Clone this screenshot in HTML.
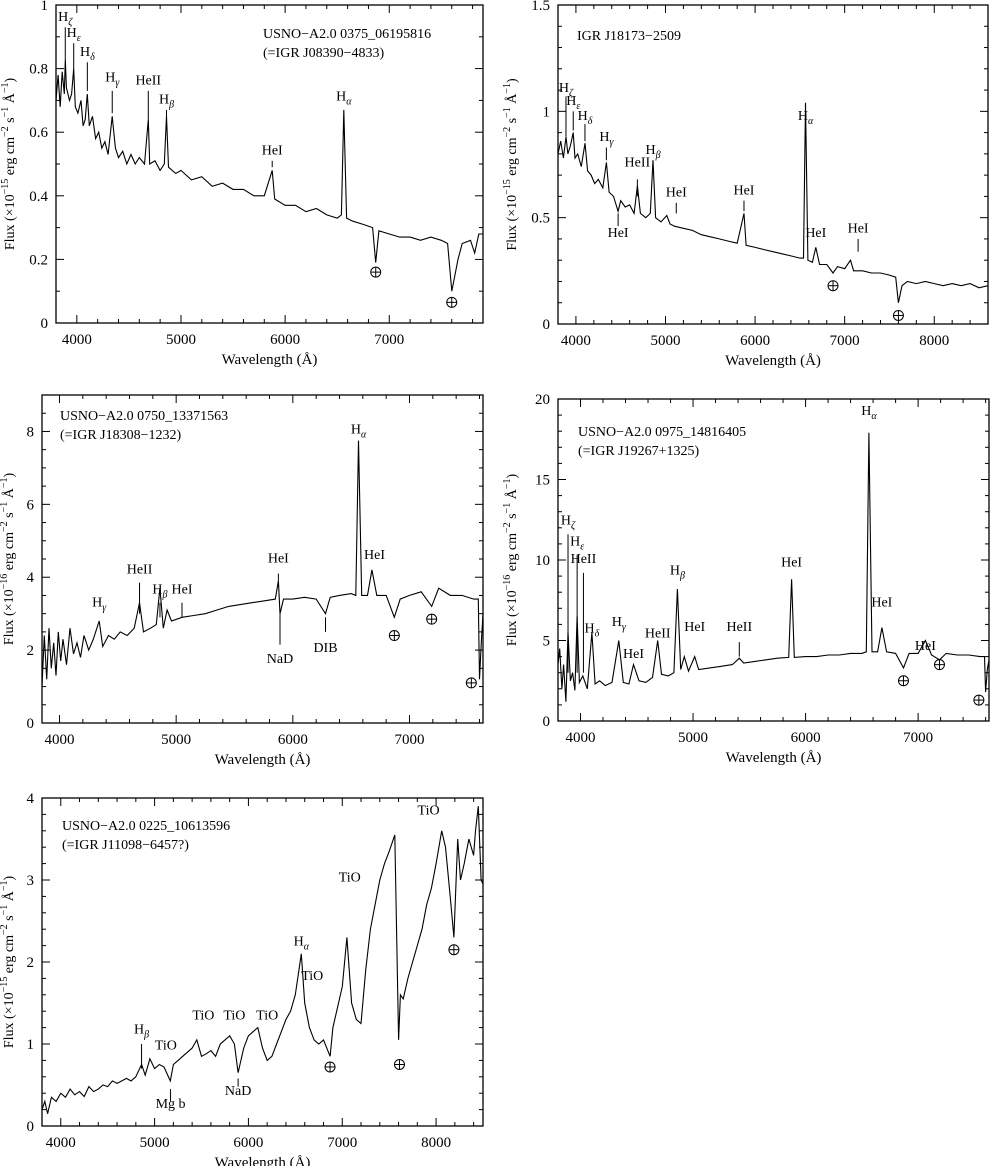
<!DOCTYPE html>
<html><head><meta charset="utf-8">
<style>
html,body{margin:0;padding:0;background:#fff;}
svg{display:block;font-family:"Liberation Serif",serif;}
</style></head>
<body>
<svg id="fig" width="991" height="1166" viewBox="0 0 991 1166"></svg>
<script>
// ---------- Panel 1 data ----------
const p1Wave = [3800,3820,3840,3860,3880,3889,3900,3930,3950,3970,3985,4010,4040,4060,4080,4101,4120,4150,4180,4210,4240,4270,4300,4340,4370,4400,4440,4480,4520,4560,4600,4650,4686,4700,4750,4800,4840,4861,4880,4950,5000,5100,5200,5300,5400,5500,5600,5700,5800,5876,5900,6000,6100,6200,6300,6400,6500,6540,6563,6590,6650,6750,6840,6870,6900,7000,7100,7200,7300,7400,7500,7560,7600,7630,7660,7700,7780,7820,7860,7900];
const p1Flux = [0.70,0.78,0.68,0.79,0.72,0.83,0.74,0.70,0.72,0.80,0.68,0.66,0.70,0.62,0.64,0.72,0.62,0.65,0.58,0.60,0.55,0.57,0.53,0.65,0.55,0.52,0.54,0.50,0.53,0.50,0.52,0.50,0.64,0.50,0.51,0.48,0.50,0.65,0.49,0.47,0.48,0.45,0.46,0.43,0.44,0.42,0.42,0.40,0.40,0.48,0.39,0.37,0.37,0.35,0.36,0.34,0.33,0.34,0.67,0.33,0.32,0.31,0.30,0.19,0.29,0.28,0.27,0.27,0.26,0.27,0.26,0.25,0.10,0.15,0.20,0.25,0.26,0.22,0.28,0.28];
const p1Labels = ["Hζ","Hε","Hδ","Hγ","HeII","Hβ","HeI","Hα"];
const p1LabelWave = [3889,3970,4101,4340,4686,4861,5876,6563];
const p1LabelY = [0.95,0.90,0.84,0.76,0.75,0.69,0.53,0.70];
const p1LineTop = [0.93,0.88,0.82,0.73,0.73,0.67,0.51,0];
const p1LineBot = [0.83,0.80,0.73,0.66,0.64,0.62,0.49,0];
const p1Earth = [[6870,0.16],[7600,0.065]];

// ---------- Panel 2 data ----------
const p2Wave = [3800,3830,3860,3889,3910,3940,3970,3990,4020,4060,4101,4130,4170,4210,4250,4300,4340,4370,4420,4471,4500,4550,4600,4650,4686,4720,4780,4830,4861,4890,4950,5015,5050,5100,5200,5300,5400,5500,5600,5700,5800,5876,5900,6000,6100,6200,6300,6400,6500,6540,6563,6590,6640,6678,6720,6800,6870,6920,7000,7065,7100,7200,7300,7400,7500,7570,7600,7640,7700,7800,7900,8000,8100,8200,8300,8400,8500,8600];
const p2Flux = [0.80,0.86,0.78,0.88,0.80,0.84,0.90,0.78,0.80,0.74,0.85,0.72,0.70,0.66,0.68,0.64,0.76,0.62,0.60,0.53,0.58,0.55,0.56,0.52,0.65,0.52,0.50,0.52,0.77,0.50,0.48,0.51,0.47,0.46,0.45,0.44,0.42,0.41,0.40,0.39,0.38,0.52,0.37,0.36,0.35,0.34,0.33,0.32,0.31,0.31,1.04,0.30,0.29,0.36,0.28,0.28,0.24,0.27,0.26,0.30,0.25,0.25,0.24,0.24,0.23,0.22,0.10,0.18,0.20,0.19,0.20,0.19,0.18,0.19,0.18,0.19,0.17,0.18];
const p2Labels = ["Hζ","Hε","Hδ","Hγ","HeI","HeII","Hβ","HeI","HeI","Hα","HeI","HeI"];
const p2LabelWave = [3889,3970,4101,4340,4471,4686,4861,5120,5876,6563,6678,7150];
const p2LabelY = [1.09,1.03,0.96,0.86,0.41,0.74,0.80,0.60,0.61,0.96,0.41,0.43];
const p2LineTop = [1.07,1.00,0.94,0.83,0.52,0.68,0.0,0.57,0.58,0,0,0.40];
const p2LineBot = [0.88,0.91,0.86,0.77,0.46,0.60,0.0,0.52,0.53,0,0,0.34];
const p2Earth = [[6870,0.18],[7600,0.04]];

// ---------- Panel 3 data ----------
const p3Wave = [3850,3870,3890,3910,3930,3950,3970,3990,4010,4030,4060,4090,4120,4150,4180,4210,4250,4290,4340,4370,4420,4470,4520,4580,4640,4686,4720,4780,4830,4861,4890,4922,4960,5050,5150,5250,5350,5450,5550,5650,5750,5850,5876,5890,5920,6000,6100,6200,6280,6320,6400,6500,6540,6563,6590,6640,6678,6720,6800,6870,6920,7000,7100,7190,7250,7350,7450,7550,7590,7600,7615,7630];
const p3Flux = [1.0,2.4,1.2,2.6,1.5,2.2,1.3,2.5,1.7,2.3,1.6,2.6,1.9,2.2,1.8,2.4,2.0,2.3,2.8,2.1,2.4,2.3,2.5,2.4,2.6,3.3,2.5,2.6,2.7,3.7,2.6,3.1,2.8,2.9,2.95,3.0,3.1,3.2,3.25,3.3,3.35,3.4,3.9,3.0,3.4,3.4,3.45,3.4,3.0,3.45,3.5,3.55,3.5,7.75,3.5,3.5,4.2,3.5,3.5,2.9,3.4,3.5,3.6,3.2,3.7,3.5,3.5,3.4,3.4,1.2,2.2,3.0];
const p3Labels = ["Hγ","HeII","Hβ","HeI","HeI","NaD","DIB","Hα","HeI"];
const p3LabelWave = [4340,4686,4861,5050,5876,5890,6280,6563,6700];
const p3LabelY = [3.2,4.1,3.55,3.55,4.4,1.65,1.95,7.95,4.5];
const p3LineTop = [0,3.85,3.3,3.3,4.1,3.0,2.9,0,0];
const p3LineBot = [0,3.0,2.9,2.9,3.9,2.15,2.5,0,0];
const p3Earth = [[6870,2.4],[7190,2.85],[7530,1.1]];

// ---------- Panel 4 data ----------
const p4Wave = [3800,3815,3835,3850,3870,3889,3910,3930,3950,3970,3990,4020,4060,4101,4130,4170,4220,4280,4340,4380,4430,4471,4520,4580,4640,4686,4720,4780,4830,4861,4890,4922,4960,5015,5050,5150,5250,5350,5411,5450,5550,5650,5750,5850,5876,5900,6000,6100,6200,6300,6400,6500,6540,6563,6590,6640,6678,6720,6800,6870,6920,7000,7065,7120,7190,7250,7350,7450,7550,7590,7600,7615,7630];
const p4Flux = [3.5,4.5,2.0,3.5,1.2,5.5,2.5,3.0,1.9,6.5,2.4,2.8,2.0,5.5,2.3,2.5,2.2,2.4,5.0,2.4,2.3,3.5,2.5,2.4,2.7,5.0,2.9,2.8,3.0,8.2,3.2,4.0,3.1,4.0,3.2,3.3,3.4,3.5,3.9,3.6,3.7,3.8,3.9,3.95,8.8,3.95,4.0,4.0,4.1,4.1,4.2,4.2,4.3,17.9,4.3,4.3,5.8,4.3,4.2,3.3,4.2,4.2,5.0,4.1,3.8,4.2,4.1,4.1,4.0,4.0,1.8,3.2,3.8];
const p4Labels = ["Hζ","Hε","HeII","Hδ","Hγ","HeI","HeII","Hβ","HeI","HeII","HeI","Hα","HeI","HeI"];
const p4LabelWave = [3889,3970,4026,4101,4340,4471,4686,4861,5015,5411,5876,6563,6678,7065];
const p4LabelY = [12.2,10.9,9.8,5.5,5.9,3.9,5.2,9.1,5.6,5.6,9.6,19,7.1,4.4];
const p4LineTop = [11.6,10.3,9.2,0,0,0,0,0,0,4.9,0,0,0,0];
const p4LineBot = [3.0,3.0,3.0,0,0,0,0,0,0,4.0,0,0,0,0];
const p4Earth = [[6870,2.5],[7190,3.5],[7540,1.3]];

// ---------- Panel 5 data ----------
const p5Wave = [3800,3830,3860,3900,3950,4000,4050,4100,4150,4200,4250,4300,4350,4400,4450,4500,4550,4600,4650,4700,4750,4800,4861,4900,4950,5000,5050,5100,5167,5200,5250,5300,5350,5400,5450,5500,5550,5600,5650,5700,5750,5800,5850,5890,5950,6000,6050,6100,6150,6200,6250,6300,6350,6400,6450,6500,6563,6600,6650,6700,6750,6800,6870,6900,6950,7000,7050,7100,7150,7200,7250,7300,7350,7400,7450,7500,7560,7600,7620,7650,7700,7750,7800,7850,7900,7950,8000,8060,8100,8150,8190,8230,8260,8300,8350,8400,8420,8450,8480,8500];
const p5Flux = [0.2,0.3,0.15,0.35,0.3,0.4,0.35,0.45,0.38,0.42,0.36,0.48,0.42,0.45,0.5,0.48,0.55,0.52,0.55,0.58,0.55,0.6,0.75,0.62,0.82,0.7,0.75,0.72,0.55,0.75,0.8,0.85,0.9,0.95,1.05,0.85,0.88,0.92,0.85,1.0,1.05,1.1,1.0,0.65,0.95,1.1,1.15,1.2,0.95,0.8,0.85,1.0,1.15,1.3,1.4,1.6,2.1,1.5,1.2,1.05,1.0,1.05,0.85,1.2,1.45,1.7,2.3,1.5,1.3,1.25,1.9,2.4,2.7,3.0,3.2,3.35,3.55,1.05,1.6,1.55,1.8,2.0,2.2,2.4,2.7,2.9,3.2,3.6,3.4,2.8,2.3,3.5,3.0,3.2,3.5,3.3,3.6,3.9,3.0,2.95];
const p5Labels = ["Hβ","TiO","Mg b","TiO","TiO","NaD","TiO","Hα","TiO","TiO","TiO"];
const p5LabelWave = [4861,5120,5170,5520,5850,5890,6200,6563,6680,7080,7920];
const p5LabelY = [1.13,0.93,0.22,1.3,1.3,0.38,1.3,2.2,1.78,2.98,3.8];
const p5LineTop = [1.0,0,0.45,0,0,0.58,0,0,0,0,0];
const p5LineBot = [0.7,0,0.3,0,0,0.48,0,0,0,0,0];
const p5Earth = [[6870,0.72],[7610,0.75],[8190,2.15]];

const NS = "http://www.w3.org/2000/svg";
const svg = document.getElementById("fig");
function mk(tag, attrs, parent){
  const e = document.createElementNS(NS, tag);
  for (const k in attrs) e.setAttribute(k, attrs[k]);
  (parent||svg).appendChild(e);
  return e;
}

function drawPanel(cfg){
  const g = mk("g", {});
  
  
  const {L,R,T,B,x0,x1,y0,y1} = cfg;
  const sx = w => L + (w - x0) / (x1 - x0) * (R - L);
  const sy = v => B - (v - y0) / (y1 - y0) * (B - T);
  const fr = mk("rect", {x:L, y:T, width:R-L, height:B-T, fill:"none", stroke:"#000", "stroke-width":1.3}, g);
  
  
  for (let w = Math.ceil(x0/200)*200; w <= x1; w += 200){
    const major = w % 1000 === 0, len = major ? 8 : 4, x = sx(w);
    mk("line",{x1:x,y1:B,x2:x,y2:B-len,stroke:"#000","stroke-width":1},g);
    mk("line",{x1:x,y1:T,x2:x,y2:T+len,stroke:"#000","stroke-width":1},g);
    if (major){
      const t = mk("text",{x:x,y:B+21,"text-anchor":"middle","font-size":15},g);
      t.textContent = w;
      
      
    }
  }
  const nMin = Math.round((y1 - y0) / cfg.yMinor);
  for (let i = 0; i <= nMin; i++){
    const v = y0 + i * cfg.yMinor;
    const major = Math.abs(v / cfg.yMajor - Math.round(v / cfg.yMajor)) < 1e-6;
    const len = major ? 8 : 4, y = sy(v);
    mk("line",{x1:L,y1:y,x2:L+len,y2:y,stroke:"#000","stroke-width":1},g);
    mk("line",{x1:R,y1:y,x2:R-len,y2:y,stroke:"#000","stroke-width":1},g);
    if (major){
      const t = mk("text",{x:L-8,y:y+5,"text-anchor":"end","font-size":15},g);
      t.textContent = cfg.fmt(v);
      
      
    }
  }
  const xt = mk("text",{x:(L+R)/2,y:B+41,"text-anchor":"middle","font-size":15},g);
  xt.textContent = "Wavelength (Å)";
  
  
  const yc = (T+B)/2, yx = cfg.ytx;
  const yt = mk("text",{x:yx,y:yc,"text-anchor":"middle","font-size":14,transform:`rotate(-90 ${yx} ${yc})`},g);
  yt.innerHTML = `Flux (×10<tspan dy="-6" font-size="10">${cfg.exp}</tspan><tspan dy="6"> erg cm</tspan><tspan dy="-6" font-size="10">−2</tspan><tspan dy="6"> s</tspan><tspan dy="-6" font-size="10">−1</tspan><tspan dy="6"> Å</tspan><tspan dy="-6" font-size="10">−1</tspan><tspan dy="6">)</tspan>`;
  
  
  const cid = "clip-" + cfg.name;
  const cp = mk("clipPath",{id:cid},g);
  mk("rect",{x:L,y:T,width:R-L,height:B-T},cp);
  let d = "";
  for (let i = 0; i < cfg.wave.length; i++){
    d += (i ? "L" : "M") + sx(cfg.wave[i]).toFixed(1) + " " + sy(cfg.flux[i]).toFixed(1);
  }
  const p = mk("path",{d:d,fill:"none",stroke:"#000","stroke-width":1.1,"clip-path":`url(#${cid})`},g);
  
  
  for (let i = 0; i < cfg.labels.length; i++){
    const lab = cfg.labels[i], x = sx(cfg.lw[i]), y = sy(cfg.ly[i]);
    const t = mk("text",{x:x,y:y,"text-anchor":"middle","font-size":14},g);
    if (lab.length === 2 && lab[0] === "H"){
      t.innerHTML = `H<tspan dy="4" font-size="10" font-style="italic">${lab[1]}</tspan>`;
    } else t.textContent = lab;
    
    
    if (cfg.lt[i] !== 0){
      const ln = mk("line",{x1:x,y1:sy(cfg.lt[i]),x2:x,y2:sy(cfg.lb[i]),stroke:"#000","stroke-width":1},g);
      
      
    }
  }
  for (const e of cfg.earth){
    const x = sx(e[0]), y = sy(e[1]);
    const c = mk("g",{},g);
    
    
    mk("circle",{cx:x,cy:y,r:5,fill:"none",stroke:"#000","stroke-width":1},c);
    mk("line",{x1:x-5,y1:y,x2:x+5,y2:y,stroke:"#000","stroke-width":1},c);
    mk("line",{x1:x,y1:y-5,x2:x,y2:y+5,stroke:"#000","stroke-width":1},c);
  }
  cfg.title.forEach((s, i) => {
    const t = mk("text",{x:cfg.tx,y:cfg.ty + i*19,"font-size":14},g);
    t.textContent = s;
    
    
  });
}

const f1 = v => (Math.abs(v-Math.round(v))<1e-6 ? String(Math.round(v)) : v.toFixed(1));
drawPanel({name:"panel-igr-j08390",L:56,R:483,T:5,B:323,x0:3800,x1:7900,y0:0,y1:1,yMajor:0.2,yMinor:0.1,fmt:f1,exp:"−15",ytx:14,
  wave:p1Wave,flux:p1Flux,labels:p1Labels,lw:p1LabelWave,ly:p1LabelY,lt:p1LineTop,lb:p1LineBot,earth:p1Earth,
  title:["USNO−A2.0 0375_06195816","(=IGR J08390−4833)"],tx:263,ty:38});
drawPanel({name:"panel-igr-j18173",L:558,R:988,T:5,B:324,x0:3800,x1:8600,y0:0,y1:1.5,yMajor:0.5,yMinor:0.1,fmt:f1,exp:"−15",ytx:516,
  wave:p2Wave,flux:p2Flux,labels:p2Labels,lw:p2LabelWave,ly:p2LabelY,lt:p2LineTop,lb:p2LineBot,earth:p2Earth,
  title:["IGR J18173−2509"],tx:577,ty:40});
drawPanel({name:"panel-igr-j18308",L:42,R:483,T:395,B:723,x0:3850,x1:7630,y0:0,y1:9,yMajor:2,yMinor:0.5,fmt:f1,exp:"−16",ytx:13,
  wave:p3Wave,flux:p3Flux,labels:p3Labels,lw:p3LabelWave,ly:p3LabelY,lt:p3LineTop,lb:p3LineBot,earth:p3Earth,
  title:["USNO−A2.0 0750_13371563","(=IGR J18308−1232)"],tx:60,ty:420});
drawPanel({name:"panel-igr-j19267",L:558,R:989,T:399,B:721,x0:3800,x1:7630,y0:0,y1:20,yMajor:5,yMinor:1,fmt:f1,exp:"−16",ytx:516,
  wave:p4Wave,flux:p4Flux,labels:p4Labels,lw:p4LabelWave,ly:p4LabelY,lt:p4LineTop,lb:p4LineBot,earth:p4Earth,
  title:["USNO−A2.0 0975_14816405","(=IGR J19267+1325)"],tx:578,ty:436});
drawPanel({name:"panel-igr-j11098",L:42,R:483,T:798,B:1126,x0:3800,x1:8500,y0:0,y1:4,yMajor:1,yMinor:0.2,fmt:f1,exp:"−15",ytx:13,
  wave:p5Wave,flux:p5Flux,labels:p5Labels,lw:p5LabelWave,ly:p5LabelY,lt:p5LineTop,lb:p5LineBot,earth:p5Earth,
  title:["USNO−A2.0 0225_10613596","(=IGR J11098−6457?)"],tx:62,ty:830});
</script>
</body></html>
